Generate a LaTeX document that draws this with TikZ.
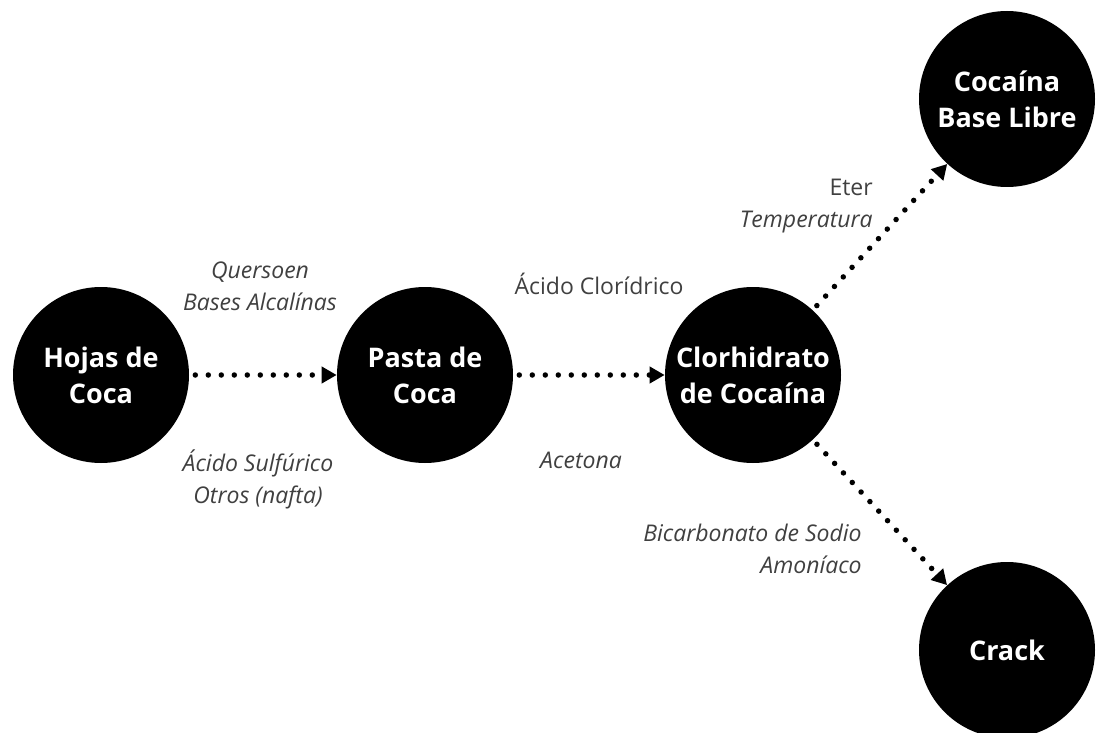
\documentclass[tikz,border=0pt]{standalone}
\usepackage{fontspec}
\setmainfont{Open Sans}
\usetikzlibrary{arrows.meta,automata}

\begin{document}
\begin{tikzpicture}[x=1pt,y=-1pt,->,>={Triangle[length=15pt,width=16pt]},auto,
                    semithick]
  \tikzstyle{every state}=[fill=black,draw=none,text=white,minimum size=176pt,
                           inner sep=0pt,align=center,
                           font=\bfseries\fontsize{27}{36}\selectfont]
  \tikzstyle{dots}=[line width=5.5pt,line cap=round,
                    dash pattern=on 0pt off 13pt,shorten <=6pt]
  \tikzstyle{reagent}=[font=\fontsize{23}{32}\selectfont,text=black!75,
                       inner sep=0pt]
  \tikzstyle{reagentit}=[reagent,font=\itshape\fontsize{23}{32}\selectfont]

  \useasboundingbox (0,0) rectangle (1096,733);

  \node[state] (hojas)  at (101,375)  {Hojas de\\Coca};
  \node[state] (pasta)  at (425,375)  {Pasta de\\Coca};
  \node[state] (clor)   at (753,375)  {Clorhidrato\\de Cocaína};
  \node[state] (base)   at (1007,99)  {Cocaína\\Base Libre};
  \node[state] (crack)  at (1007,650) {Crack};

  \path[dots] (hojas) edge (pasta)
              (pasta) edge (clor)
              (clor)  edge (base)
              (clor)  edge (crack)
  ; %end path

  % base anchor of a two line node sits on its last line
  \node[reagentit,anchor=base,align=center] (quersoen) at (260,310)
       {Quersoen\\Bases Alcalínas};
  \node[reagentit,anchor=base,align=center] (sulfurico) at (258,503)
       {Ácido Sulfúrico\\Otros (nafta)};
  \node[reagent,anchor=base] (cloridrico) at (599,294) {Ácido Clorídrico};
  \node[reagentit,anchor=base] (acetona) at (581,468) {Acetona};
  \node[reagent,anchor=base east,align=right] (eter) at (873,227)
       {Eter\\\textit{Temperatura}};
  \node[reagentit,anchor=base east,align=right] (bicarbonato) at (862,573)
       {Bicarbonato de Sodio\\Amoníaco};
\end{tikzpicture}
\end{document}
